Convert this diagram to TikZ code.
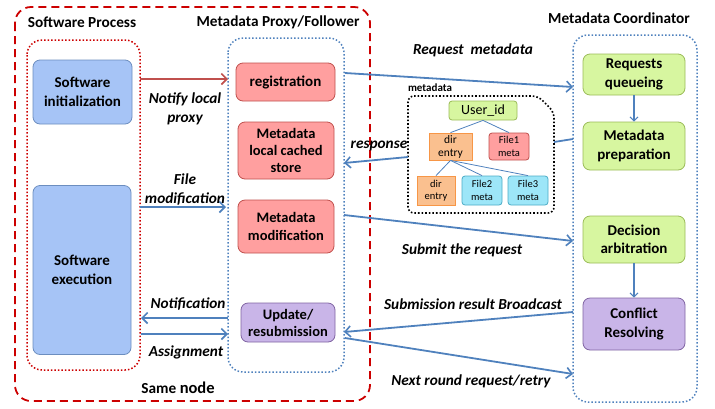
\documentclass[tikz,border=0pt]{standalone}
\usepackage{fontspec}
\setmainfont{Carlito}
\usetikzlibrary{arrows.meta}
\definecolor{arrblue}{HTML}{4F81BD}
\definecolor{redline}{HTML}{C0504D}
\definecolor{dashred}{HTML}{CC0000}
\definecolor{dotblue}{HTML}{4F81BD}
\definecolor{swfill}{HTML}{A6C4F6}
\definecolor{swdraw}{HTML}{6C8EBF}
\definecolor{pkfill}{HTML}{FF9F9F}
\definecolor{pkdraw}{HTML}{C0504D}
\definecolor{gnfill}{HTML}{D7F6A0}
\definecolor{gndraw}{HTML}{9BBB59}
\definecolor{pufill}{HTML}{C9B5E8}
\definecolor{pudraw}{HTML}{8064A2}
\definecolor{orfill}{HTML}{FAC08F}
\definecolor{ordraw}{HTML}{F79646}
\definecolor{cyfill}{HTML}{9DE6F8}
\definecolor{cydraw}{HTML}{4BACC6}
\tikzset{
  box/.style={rounded corners=7pt, line width=0.8pt, align=center, inner sep=1pt,
    font=\fontsize{15}{18.5}\selectfont\bfseries},
  swbox/.style={box, fill=swfill, draw=swdraw},
  pkbox/.style={box, fill=pkfill, draw=pkdraw},
  gnbox/.style={box, fill=gnfill, draw=gndraw},
  pubox/.style={box, fill=pufill, draw=pudraw},
  tbox/.style={rounded corners=3pt, line width=0.8pt, align=center, inner sep=0.5pt,
    font=\fontsize{10.5}{12.5}\selectfont},
  lbl/.style={font=\fontsize{15.3}{19}\selectfont\bfseries\itshape, align=center, inner sep=0pt},
  hdr/.style={font=\fontsize{15.3}{18}\selectfont\bfseries, inner sep=0pt},
  arr/.style={draw=arrblue, line width=1.8pt, -{Straight Barb[length=5.5pt,width=11pt,line width=1.6pt]}},
  plainln/.style={draw=arrblue, line width=1.8pt},
  tree/.style={draw=arrblue, line width=0.8pt},
  cont/.style={rounded corners=15pt, line width=1.5pt, dotted},
}
\begin{document}
\begin{tikzpicture}[x=1pt,y=-1pt]
\useasboundingbox (0,0) rectangle (715,408);
% containers
\draw[dashred, line width=1.8pt, dash pattern=on 8pt off 5pt, rounded corners=16pt] (15,7) rectangle (370,401);
\draw[cont, draw=dashred] (27,40) rectangle (140,370);
\draw[cont, draw=dotblue] (228,38) rectangle (344,372);
\draw[cont, draw=dotblue] (573,35) rectangle (697,402);
% headers
\node[hdr] (hsp) at (82,22) {Software Process};
\node[hdr] (hpx) at (278,22) {Metadata Proxy/Follower};
\node[hdr] (hco) at (619,18) {Metadata Coordinator};
\node[hdr] (hsn) at (178,388) {Same {\fontsize{16.5}{18}\selectfont node}};
% left boxes
\node[swbox, minimum width=99pt, minimum height=64pt] (si) at (82.5,92) {Software\\initialization};
\node[swbox, minimum width=98pt, minimum height=169pt] (se) at (82,270) {Software\\execution};
% proxy boxes
\node[pkbox, minimum width=99pt, minimum height=38pt] (reg) at (285.5,82) {registration};
\node[pkbox, minimum width=96pt, minimum height=57pt, font=\fontsize{14.5}{17}\selectfont\bfseries] (mlc) at (286,150.5) {Metadata\\local cached\\store};
\node[pkbox, minimum width=96pt, minimum height=53pt, font=\fontsize{14.5}{17.5}\selectfont\bfseries] (mm) at (286,226.5) {Metadata\\modification};
\node[pubox, minimum width=94pt, minimum height=39pt, font=\fontsize{14.5}{17}\selectfont\bfseries] (upd) at (288,322.5) {Update/\\resubmission};
% coordinator boxes
\node[gnbox, minimum width=102pt, minimum height=41pt] (rq) at (634,74.5) {Requests\\queueing};
\node[gnbox, minimum width=102pt, minimum height=48pt] (mp) at (634,146) {Metadata\\preparation};
\node[gnbox, minimum width=102pt, minimum height=47pt] (da) at (634,239.5) {Decision\\arbitration};
\node[pubox, minimum width=102pt, minimum height=52pt] (cr) at (634,324) {Conflict\\Resolving};
\draw[draw=arrblue, line width=1.1pt, -{Straight Barb[length=4pt,width=8pt,line width=1pt]}] (rq) -- (mp);
\draw[draw=arrblue, line width=1.1pt, -{Straight Barb[length=4pt,width=8pt,line width=1pt]}] (da) -- (cr);
% metadata tree box
\node[font=\fontsize{11}{13}\selectfont\bfseries, inner sep=0pt] (mdl) at (430,88) {metadata};
\draw[line width=1.6pt, dotted, rounded corners=6pt] (408,96) -- (538,96) -- (554,112) -- (554,213) -- (408,213) -- cycle;
\node[tbox, fill=gnfill, draw=gndraw, minimum width=68pt, minimum height=19pt, font=\fontsize{14}{16}\selectfont] (uid) at (483,110.5) {User\_id};
\node[tbox, fill=orfill, draw=ordraw, minimum width=43pt, minimum height=27pt, rounded corners=0pt, font=\fontsize{11.5}{13}\selectfont] (d1) at (450.5,146.5) {dir\\entry};
\node[tbox, fill=pkfill, draw=pkdraw, minimum width=40pt, minimum height=27pt] (f1) at (509,146.5) {File1\\meta};
\node[tbox, fill=orfill, draw=ordraw, minimum width=38pt, minimum height=29pt, rounded corners=0pt] (d2) at (436,190.5) {dir\\entry};
\node[tbox, fill=cyfill, draw=cydraw, minimum width=40pt, minimum height=29pt] (f2) at (482,190.5) {File2\\meta};
\node[tbox, fill=cyfill, draw=cydraw, minimum width=40pt, minimum height=29pt] (f3) at (528,190.5) {File3\\meta};
\draw[tree] (uid.south) -- (d1.north);
\draw[tree] (uid.south) -- (f1.north);
\draw[tree] (d1.south) -- (d2.north);
\draw[tree] (d1.south) -- (f2.north);
\draw[tree] (d1.south) -- (f3.north);
% connector coordinates
\coordinate (sp1) at (140,79);   \coordinate (px1) at (228,79);
\coordinate (sp2) at (140,207);  \coordinate (px2) at (226,207);
\coordinate (px3) at (228,318);  \coordinate (sp3) at (141,318);
\coordinate (sp4) at (141,334);  \coordinate (px4) at (228,334);
\coordinate (px5) at (345,73);   \coordinate (co5) at (573,87);
\coordinate (co6) at (573,139);  \coordinate (mb6) at (554,142);
\coordinate (mb6b) at (408,157); \coordinate (px6) at (344,163);
\coordinate (px7) at (344,215);  \coordinate (co7) at (573,241);
\coordinate (co8) at (573,312);  \coordinate (px8) at (344,332);
\coordinate (px9) at (345,338);  \coordinate (co9) at (573,374);
% connectors
\draw[arr, draw=redline] (sp1) -- (px1);
\draw[arr] (sp2) -- (px2);
\draw[arr] (px3) -- (sp3);
\draw[arr] (sp4) -- (px4);
\draw[arr] (px5) -- (co5);
\draw[plainln] (co6) -- (mb6);
\draw[arr] (mb6b) -- (px6);
\draw[arr] (px7) -- (co7);
\draw[arr] (co8) -- (px8);
\draw[arr] (px9) -- (co9);
% labels
\node[lbl] (l1) at (185,109) {Notify local\\proxy};
\node[lbl] (l2) at (185,190) {File\\modification};
\node[lbl] (l3) at (473,50) {Request\ \ metadata};
\node[lbl] (l4) at (379,146) {response};
\node[lbl] (l5) at (462,250) {Submit the request};
\node[lbl] (l6) at (473,304) {Submission result Broadcast};
\node[lbl] (l7) at (471,381) {Next round request/retry};
\node[lbl] (l8) at (188,304) {Notification};
\node[lbl] (l9) at (186,352) {Assignment};
\end{tikzpicture}
\end{document}
